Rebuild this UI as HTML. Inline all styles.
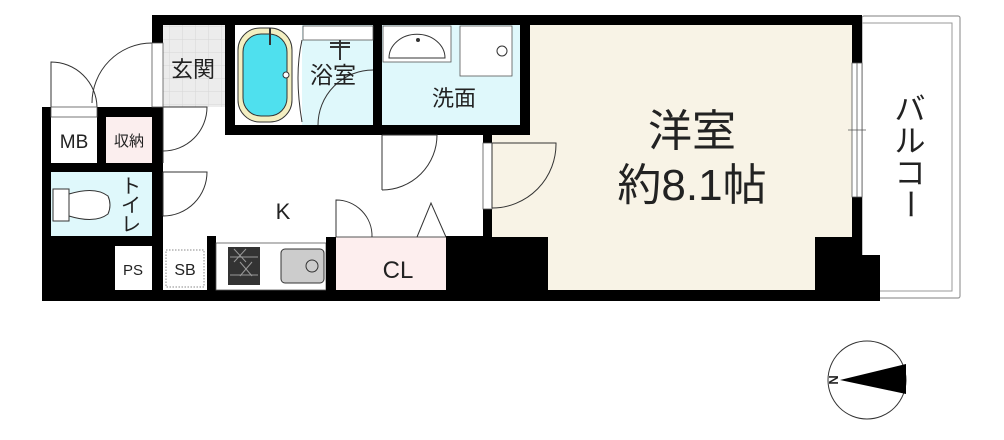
<!DOCTYPE html>
<html><head><meta charset="utf-8"><style>
html,body{margin:0;padding:0;background:#fff;width:1004px;height:440px;overflow:hidden}
text{font-family:"Liberation Sans","Noto Sans CJK JP",sans-serif;fill:#222}
</style></head><body>
<svg width="1004" height="440" viewBox="0 0 1004 440" xmlns="http://www.w3.org/2000/svg">
<defs>
<pattern id="tile" width="13" height="13" patternUnits="userSpaceOnUse"><rect width="13" height="13" fill="#ececec"/><path d="M0 0H13M0 0V13" stroke="#d6d6d6" stroke-width="1"/></pattern>
</defs>
<!-- balcony -->
<rect x="862" y="16" width="98" height="282" rx="2" fill="#fff" stroke="#999" stroke-width="1.2"/>
<rect x="862" y="23" width="90" height="268" fill="none" stroke="#999" stroke-width="1"/>
<!-- main black outline -->
<rect x="152" y="15" width="710" height="286" fill="#000"/>
<rect x="42" y="107" width="120" height="194" fill="#000"/>
<!-- western room -->
<rect x="530" y="25" width="322" height="265" fill="#f8f3e6"/>
<rect x="492" y="135" width="40" height="155" fill="#f8f3e6"/>
<rect x="480" y="237" width="68" height="64" fill="#000"/>
<rect x="815" y="237" width="47" height="64" fill="#000"/>
<rect x="860" y="255" width="20" height="46" fill="#000"/>
<!-- kitchen white -->
<rect x="163" y="135" width="320" height="155" fill="#fff"/>
<rect x="163" y="107" width="62" height="28" fill="#fff"/>
<!-- genkan -->
<rect x="163" y="25" width="62" height="82" fill="url(#tile)"/>
<!-- bath block -->
<rect x="235" y="25" width="67" height="100" fill="#fff"/>
<rect x="302" y="25" width="71" height="100" fill="#dff8fb"/>
<rect x="303" y="26" width="70" height="14" fill="#fff" stroke="#555" stroke-width="0.8"/>
<rect x="382" y="25" width="138" height="100" fill="#dff8fb"/>
<rect x="383" y="26" width="68" height="36" fill="#fff" stroke="#555" stroke-width="0.8"/>
<path d="M389 58 A26 22 0 0 1 445 58 Z" fill="#fff" stroke="#333" stroke-width="1"/>
<circle cx="418" cy="40" r="2" fill="#333"/>
<rect x="460" y="26" width="52" height="50" fill="#fff" stroke="#555" stroke-width="0.8"/>
<circle cx="502" cy="51" r="5" fill="#fff" stroke="#333"/>
<rect x="238" y="28" width="54" height="94" rx="22" fill="#f3efc2" stroke="#333"/>
<rect x="243" y="34" width="44" height="82" rx="18" fill="#4fe0ee" stroke="#333"/>
<line x1="270" y1="28" x2="270" y2="45" stroke="#333" stroke-width="2"/>
<circle cx="286" cy="75" r="3" fill="#fff" stroke="#333"/>
<path d="M302 40 Q294 75 302 122" fill="none" stroke="#333"/>
<path d="M340 40 V60 M330 43 H350 M330 47 H350" stroke="#333" stroke-width="2"/>
<path d="M318 125 A55 55 0 0 1 373 70" fill="none" stroke="#333"/>
<!-- left cluster -->
<rect x="51" y="117" width="46" height="46" fill="#fff"/>
<rect x="106" y="117" width="46" height="46" fill="#fbeeee"/>
<rect x="51" y="172" width="101" height="64" fill="#dff8fb"/>
<rect x="115" y="246" width="37" height="44" fill="#fff"/>
<rect x="163" y="245" width="44" height="45" fill="#fff"/>
<rect x="166" y="250" width="38" height="37" fill="none" stroke="#888" stroke-dasharray="1.5 1.5"/>
<rect x="207" y="236" width="9" height="64" fill="#000"/>
<rect x="216" y="243" width="110" height="47" fill="#fff" stroke="#555" stroke-width="0.8"/>
<rect x="228" y="247" width="32" height="38" fill="#333"/>
<g stroke="#999" stroke-width="1" fill="none">
<path d="M230 257 H258 M230 275 H258 M234 249 L246 262 M246 249 L234 262 M240 262 L252 276 M252 262 L240 276"/>
</g>
<rect x="281" y="249" width="43" height="34" rx="4" fill="#ccc" stroke="#333"/>
<circle cx="312" cy="266" r="6" fill="none" stroke="#333"/>
<rect x="326" y="237" width="10" height="63" fill="#000"/>
<rect x="336" y="237" width="110" height="53" fill="#fdeeee"/>
<line x1="336" y1="237" x2="446" y2="237" stroke="#555"/>
<rect x="446" y="236" width="40" height="64" fill="#000"/>
<!-- toilet -->
<rect x="53" y="189" width="16" height="32" fill="#fff" stroke="#333"/>
<path d="M69 194 Q95 186 108 196 Q112 205 108 214 Q95 224 69 216 Z" fill="#fff" stroke="#333"/>
<!-- door frames -->
<rect x="483" y="143" width="9" height="66" fill="#fff" stroke="#555" stroke-width="0.8"/>
<!-- doors -->
<g fill="none" stroke="#333" stroke-width="1">
<path d="M163 107 V163 M163 107 H207 A44 44 0 0 1 163 151"/>
<path d="M163 172 V216 M163 172 H207 A44 44 0 0 1 163 216"/>
<path d="M382 135 V190 M382 135 H437 A55 55 0 0 1 382 190"/>
<path d="M492 143 V208 M492 143 H556 A64 64 0 0 1 492 208"/>
<path d="M336 237 V200 A36 36 0 0 1 372 237"/>
<path d="M417 237 L431 203 L446 237"/>
<path d="M51 107 V62 A46 46 0 0 1 97 107"/>
<path d="M152 43 A60 60 0 0 0 92 103"/>
</g>
<rect x="51" y="107" width="46" height="10" fill="#fff" stroke="#555" stroke-width="0.8"/>
<rect x="152" y="43" width="11" height="64" fill="#fff" stroke="#555" stroke-width="0.8"/>
<rect x="852" y="63" width="10" height="134" fill="#fff" stroke="#555" stroke-width="0.8"/>
<line x1="857" y1="63" x2="857" y2="197" stroke="#555" stroke-width="0.8"/>
<line x1="848" y1="130" x2="866" y2="130" stroke="#555" stroke-width="0.8"/>
<!-- labels -->
<text x="193" y="77" font-size="22" text-anchor="middle">玄関</text>
<text x="333" y="83" font-size="23" text-anchor="middle">浴室</text>
<text x="454" y="106" font-size="22" text-anchor="middle">洗面</text>
<text x="692" y="146" font-size="44" text-anchor="middle">洋室</text>
<text x="692" y="200" font-size="44" text-anchor="middle">約8.1帖</text>
<text x="283" y="219" font-size="22" text-anchor="middle">K</text>
<text x="74" y="148" font-size="19" text-anchor="middle">MB</text>
<text x="129" y="146" font-size="15" text-anchor="middle">収納</text>
<text x="133" y="275" font-size="15" text-anchor="middle">PS</text>
<text x="185" y="275" font-size="16" text-anchor="middle">SB</text>
<text x="398" y="278" font-size="24" text-anchor="middle">CL</text>
<text x="131" y="193" font-size="20" text-anchor="middle">ト</text>
<text x="131" y="212" font-size="20" text-anchor="middle">イ</text>
<text x="131" y="231" font-size="20" text-anchor="middle">レ</text>
<g font-size="31">
<text x="910" y="120" text-anchor="middle">バ</text>
<text x="910" y="152" text-anchor="middle">ル</text>
<text x="910" y="184" text-anchor="middle">コ</text>
<text x="910" y="215" text-anchor="middle" transform="rotate(90 910 204)">ー</text>
</g>
<!-- compass -->
<circle cx="867" cy="380" r="39" fill="#fff" stroke="#333"/>
<path d="M840 380 L906 364 L906 394 Z" fill="#000"/>
<text x="834" y="385" font-size="13" font-weight="bold" transform="rotate(90 834 380)" text-anchor="middle">N</text>
</svg>
</body></html>
